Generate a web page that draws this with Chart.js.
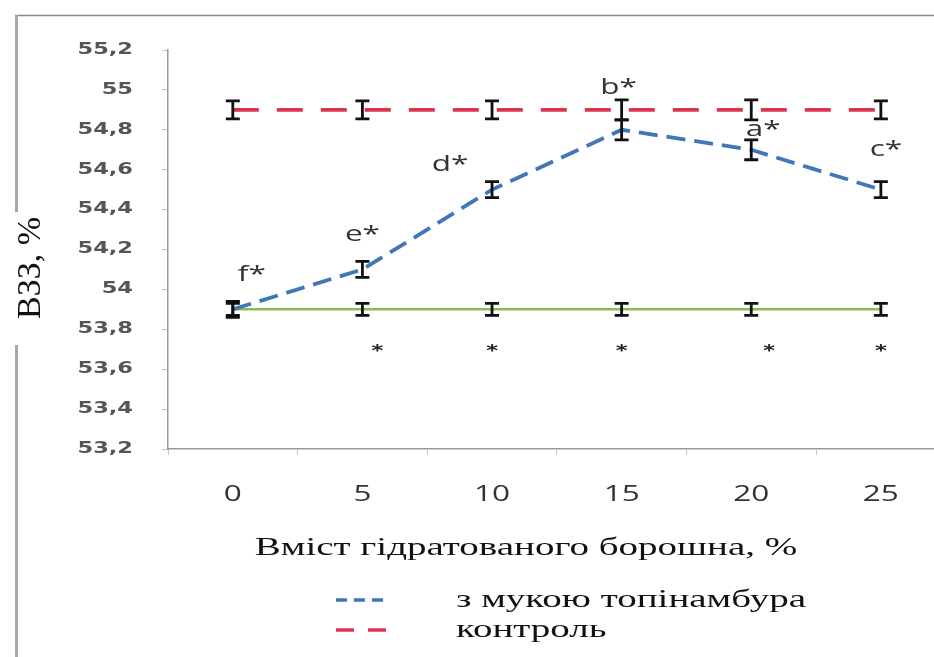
<!DOCTYPE html>
<html>
<head>
<meta charset="utf-8">
<script src="https://cdn.jsdelivr.net/npm/chart.js@4/dist/chart.umd.min.js"></script>
<style>
  html, body { margin: 0; padding: 0; background: #fff; }
  #wrap { width: 934px; height: 657px; position: relative; }
</style>
</head>
<body>
<div id="wrap"><canvas id="c" width="934" height="657"></canvas></div>
<script>
// Вміст гідратованого борошна, %
const flourContent = [0, 5, 10, 15, 20, 25];

// ВЗЗ, % — з мукою топінамбура
const withArtichoke = [53.9, 54.1, 54.5, 54.8, 54.7, 54.5];
const withArtichokeErr = [0.04, 0.04, 0.04, 0.05, 0.05, 0.04];

// ВЗЗ, % — контроль
const control = [54.9, 54.9, 54.9, 54.9, 54.9, 54.9];
const controlErr = [0.045, 0.045, 0.045, 0.05, 0.05, 0.045];

// baseline level of the zero-dose sample
const baseline = [53.9, 53.9, 53.9, 53.9, 53.9, 53.9];
const baselineErr = [0.03, 0.03, 0.03, 0.03, 0.03, 0.03];

// homogeneity groups over the artichoke curve
const groupLetters = ['f*', 'e*', 'd*', 'b*', 'a*', 'c*'];
// significance marks under the baseline
const markCats = [5, 10, 15, 20, 25];
const markLevel = 53.7;

const seriesNames = ['з мукою топінамбура', 'контроль', ''];
const xTitle = 'Вміст гідратованого борошна, %';
const yTitle = 'ВЗЗ, %';

// pixel nudges for annotation text
const letterNudge = [[19, -34], [0, -34], [-42, -25], [-3, -42], [12, -20], [5, -40]];
const markNudge = [15, 0, 0, 18, 0];

const toPts = (vals) => vals.map((v, i) => ({ x: flourContent[i], y: v }));
const fmtComma = (v) => String(Number(v.toFixed(1))).replace('.', ',');

const BLUE = '#3f77b8';
const RED = '#dc3450';
const GREEN = '#8cbb52';
const WIDE = 1.5; // typeface is set wide across the whole figure

// draw text widened horizontally around its anchor
function wideText(ctx, text, x, y, align) {
  ctx.save();
  ctx.translate(x, y);
  ctx.scale(WIDE, 1);
  ctx.textAlign = align;
  ctx.fillText(text, 0, 0);
  ctx.restore();
}

const errorBars = {
  id: 'errorBars',
  afterDatasetsDraw(chart) {
    const { ctx, scales: { x, y } } = chart;
    const errs = [withArtichokeErr, controlErr, baselineErr];
    ctx.save();
    ctx.strokeStyle = '#111';
    ctx.lineWidth = 2.8;
    chart.data.datasets.forEach((ds, di) => {
      ds.data.forEach((p, i) => {
        const px = x.getPixelForValue(p.x);
        const top = y.getPixelForValue(p.y + errs[di][i]);
        const bot = y.getPixelForValue(p.y - errs[di][i]);
        ctx.beginPath();
        ctx.moveTo(px, top); ctx.lineTo(px, bot);
        ctx.moveTo(px - 7, top); ctx.lineTo(px + 7, top);
        ctx.moveTo(px - 7, bot); ctx.lineTo(px + 7, bot);
        ctx.stroke();
      });
    });
    // group letters
    ctx.fillStyle = '#333';
    ctx.font = '21px "Open Sans"';
    ctx.textBaseline = 'middle';
    groupLetters.forEach((t, i) => {
      const px = x.getPixelForValue(flourContent[i]) + letterNudge[i][0];
      const py = y.getPixelForValue(withArtichoke[i]) + letterNudge[i][1];
      wideText(ctx, t, px, py, 'center');
    });
    // significance marks
    ctx.fillStyle = '#222';
    ctx.font = 'bold 15px "DejaVu Sans"';
    markCats.forEach((c, i) => {
      const px = x.getPixelForValue(c) + markNudge[i];
      const py = y.getPixelForValue(markLevel) + 3;
      wideText(ctx, '*', px, py, 'center');
    });
    ctx.restore();
  }
};

const frameAndText = {
  id: 'frameAndText',
  beforeDraw(chart) {
    const { ctx } = chart;
    ctx.save();
    ctx.fillStyle = '#fff';
    ctx.fillRect(0, 0, chart.width, chart.height);
    ctx.strokeStyle = '#8a8a8a';
    ctx.lineWidth = 1.5;
    ctx.beginPath();
    ctx.moveTo(15, 15.5); ctx.lineTo(934, 15.5);
    ctx.stroke();
    ctx.strokeStyle = '#a8a8a8';
    ctx.lineWidth = 3;
    ctx.beginPath();
    ctx.moveTo(16.5, 15); ctx.lineTo(16.5, 212);
    ctx.moveTo(16.5, 345); ctx.lineTo(16.5, 657);
    ctx.stroke();
    ctx.restore();
  },
  afterDraw(chart) {
    const { ctx, scales: { x, y } } = chart;
    ctx.save();
    ctx.textBaseline = 'middle';

    // tick labels
    ctx.fillStyle = '#555';
    ctx.font = 'bold 15px "DejaVu Sans"';
    y.ticks.forEach(t => {
      wideText(ctx, fmtComma(t.value), 133, y.getPixelForValue(t.value), 'right');
    });
    ctx.fillStyle = '#333';
    ctx.font = '21px "Open Sans"';
    x.ticks.forEach(t => {
      if (Number.isInteger(t.value)) wideText(ctx, String(t.value), x.getPixelForValue(t.value), 495, 'center');
    });

    ctx.fillStyle = '#111';
    // y title
    ctx.save();
    ctx.translate(31, 268);
    ctx.rotate(-Math.PI / 2);
    ctx.textAlign = 'center';
    ctx.font = '34px "Liberation Serif"';
    ctx.fillText(yTitle, 0, 0);
    ctx.restore();
    // x title
    ctx.font = '26px "Liberation Serif"';
    wideText(ctx, xTitle, 526, 548, 'center');
    // legend
    const rows = [
      { y: 600, color: BLUE, dash: [11, 7], name: seriesNames[0] },
      { y: 630, color: RED, dash: [18, 14], name: seriesNames[1] }
    ];
    rows.forEach(r => {
      ctx.save();
      ctx.strokeStyle = r.color;
      ctx.lineWidth = 3.5;
      ctx.setLineDash(r.dash);
      ctx.beginPath();
      ctx.moveTo(336, r.y); ctx.lineTo(388, r.y);
      ctx.stroke();
      ctx.restore();
      ctx.font = '26px "Liberation Serif"';
      wideText(ctx, r.name, 456, r.y, 'left');
    });
    ctx.restore();
  }
};

new Chart(document.getElementById('c'), {
  type: 'line',
  data: {
    datasets: [
      { label: seriesNames[0], data: toPts(withArtichoke), borderColor: BLUE, borderWidth: 3.8, borderDash: [19, 9], pointRadius: 0, tension: 0 },
      { label: seriesNames[1], data: toPts(control), borderColor: RED, borderWidth: 3.8, borderDash: [26, 18], pointRadius: 0, tension: 0 },
      { label: seriesNames[2], data: toPts(baseline), borderColor: GREEN, borderWidth: 2.5, pointRadius: 0, tension: 0 }
    ]
  },
  options: {
    responsive: false,
    animation: false,
    devicePixelRatio: 1,
    layout: { padding: { top: 50, left: 0, right: 0, bottom: 0 } },
    plugins: { legend: { display: false }, tooltip: { enabled: false } },
    scales: {
      x: {
        type: 'linear',
        min: -2.5,
        max: 27.05,
        afterBuildTicks: (s) => {
          s.ticks = [-2.5, 0, 2.5, 5, 7.5, 10, 12.5, 15, 17.5, 20, 22.5, 25].map(v => ({ value: v }));
        },
        afterFit: (s) => { s.height = 208; },
        grid: {
          drawOnChartArea: false,
          tickLength: 6,
          tickColor: (c) => (c.tick && Number.isInteger(c.tick.value)) ? 'rgba(0,0,0,0)' : '#c4c4c4'
        },
        border: { color: '#9a9a9a', width: 1.5 },
        ticks: {
          autoSkip: false,
          maxRotation: 0,
          color: 'rgba(0,0,0,0)',
          font: { family: 'Open Sans', size: 21 },
          callback: (v) => Number.isInteger(v) ? String(v) : ''
        }
      },
      y: {
        min: 53.2,
        max: 55.2,
        afterFit: (s) => { s.width = 168; },
        grid: { drawOnChartArea: false, tickLength: 6, tickColor: '#c4c4c4' },
        border: { color: '#9a9a9a', width: 1.5 },
        ticks: {
          stepSize: 0.2,
          color: 'rgba(0,0,0,0)',
          font: { family: 'DejaVu Sans', weight: 'bold', size: 15 },
          callback: (v) => fmtComma(v)
        }
      }
    }
  },
  plugins: [frameAndText, errorBars]
});
</script>
</body>
</html>
